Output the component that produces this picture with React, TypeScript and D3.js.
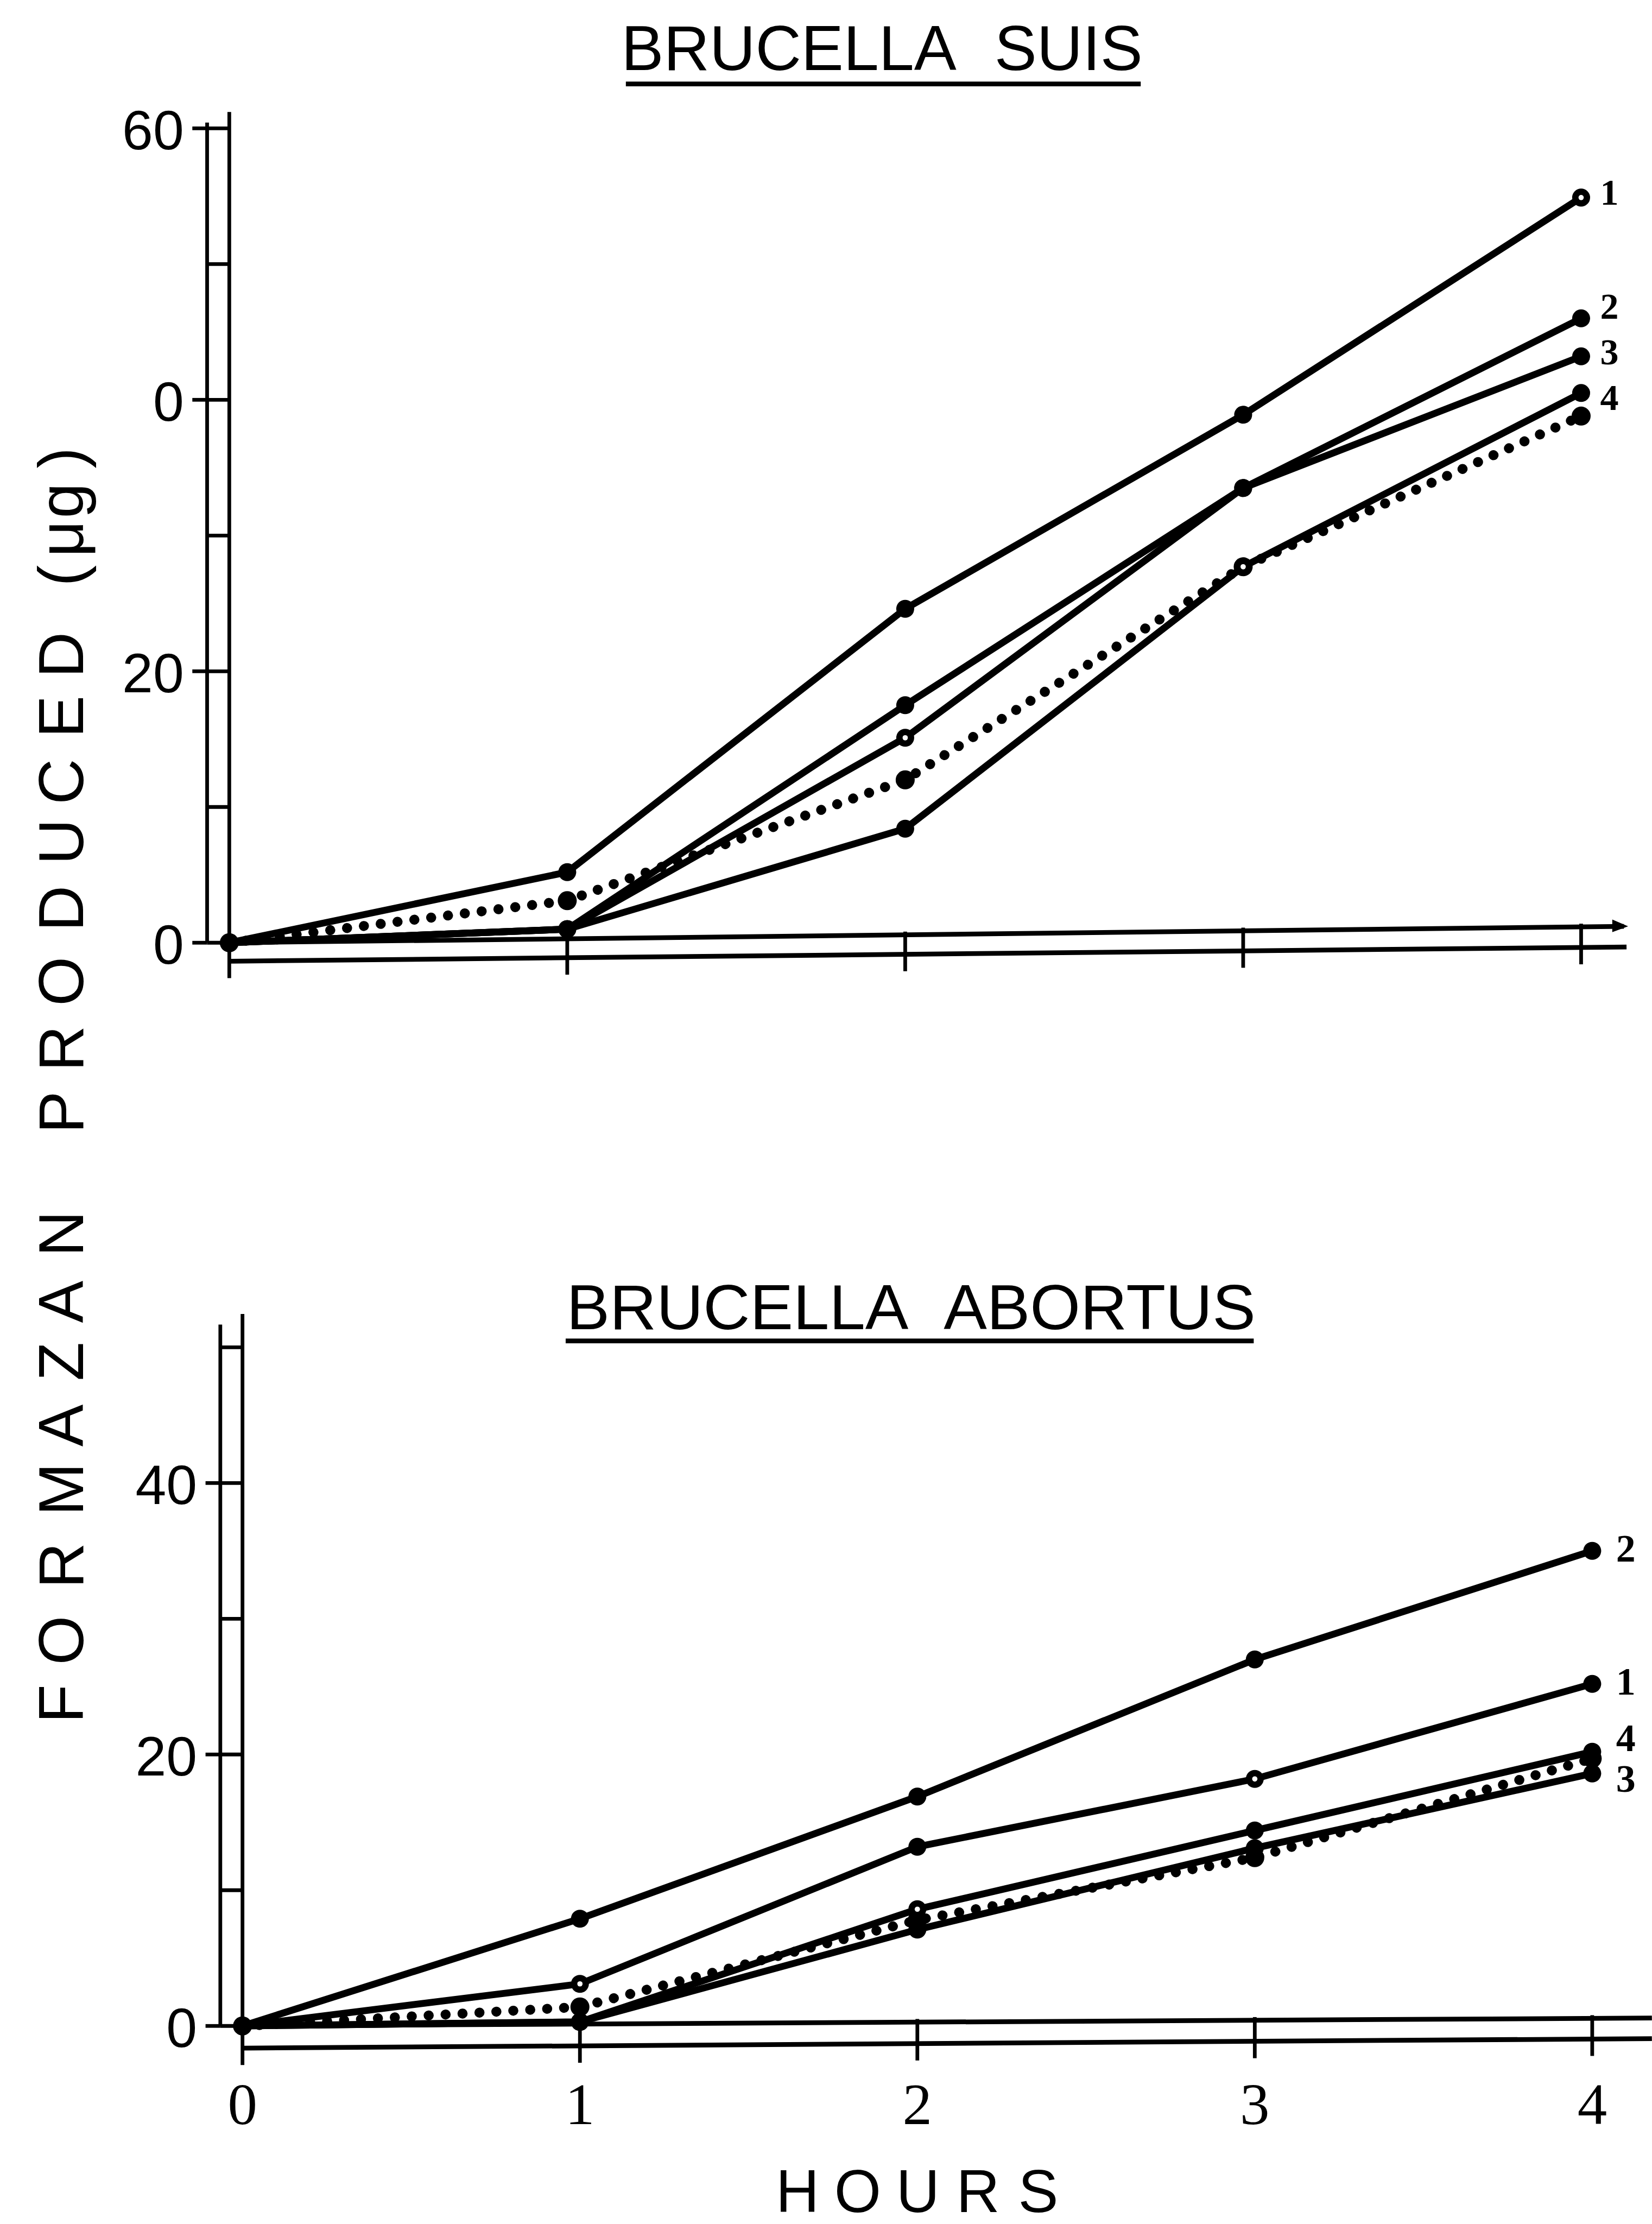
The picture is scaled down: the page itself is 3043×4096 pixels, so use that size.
import React from 'react';
import * as d3 from 'd3';

// ---------- data ----------
const hours = [0, 1, 2, 3, 4];
const hourTickLabels = ['0', '1', '2', '3', '4'];
const curveNames = ['1', '2', '3', '4'];

// Brucella suis (formazan, µg)
const suis1 = [0, 5.2, 24.6, 38.9, 54.9];
const suis2 = [0, 1.0, 17.5, 33.5, 46.0];
const suis3 = [0, 1.0, 15.1, 33.5, 43.2];
const suis4 = [0, 1.0, 8.4, 27.7, 40.5];
const suisDotted = [0, 3.1, 12.0, 27.7, 38.8];
const suisTickValues = [0, 20, 40, 60];
const suisTickLabels = ['0', '20', '0', '60'];
const suisMinorTicks = [10, 30, 50];

// Brucella abortus
const abortus1 = [0, 3.1, 13.2, 18.2, 25.2];
const abortus2 = [0, 7.9, 16.9, 27.0, 35.0];
const abortus3 = [0, 0.3, 7.1, 13.1, 18.6];
const abortus4 = [0, 0.3, 8.6, 14.4, 20.2];
const abortusDotted = [0, 1.4, 7.8, 12.4, 19.7];
const abortusTickValues = [0, 20, 40];
const abortusTickLabels = ['0', '20', '40'];
const abortusMinorTicks = [10, 30, 50];

// open (hollow-centred) markers: [curve index, point index]
const suisOpen = [[0, 4], [2, 2], [3, 3]];
const abortusOpen = [[0, 1], [0, 3], [3, 2]];

// ---------- layout (reference pixel space) ----------
const W = 3128;
const H = 4211;
const FONT = '"Liberation Sans", Arial, Helvetica, sans-serif';
const SERIF = '"Liberation Serif", "Times New Roman", serif';

type PanelProps = {
  title: string;
  titleX: number;
  titleBase: number;
  titleLen: number;
  ulX1: number;
  ulX2: number;
  ulY: number;
  xs: d3.ScaleLinear<number, number>;
  ys: d3.ScaleLinear<number, number>;
  curves: number[][];
  dotted: number[];
  open: number[][];
  tickValues: number[];
  tickLabels: string[];
  minorTicks: number[];
  labelDy: number[];
  labelDx: number;
  labelSize: number;
  axisTop: number;
  upperEnd: [number, number];
  lowerStart: number;
  lowerEnd: [number, number];
  arrow: boolean;
  showHourLabels: boolean;
};

function Panel(p: PanelProps) {
  const { xs, ys } = p;
  const x0 = xs(0);
  const y0 = ys(0);
  const leftX = x0 - 42;
  const line = d3
    .line<number>()
    .x((_, i) => xs(hours[i]))
    .y((d) => ys(d));
  const upperY = (x: number) => y0 + ((p.upperEnd[1] - y0) * (x - x0)) / (p.upperEnd[0] - x0);
  const lowerY = (x: number) =>
    p.lowerStart + ((p.lowerEnd[1] - p.lowerStart) * (x - x0)) / (p.lowerEnd[0] - x0);
  const allMinor = [...p.tickValues, ...p.minorTicks];
  return (
    <g>
      {/* title */}
      <text
        x={p.titleX}
        y={p.titleBase}
        fontFamily={FONT}
        fontSize={120}
        wordSpacing={45}
        textAnchor="middle"
        textLength={p.titleLen}
        lengthAdjust="spacingAndGlyphs"
        fill="#000"
      >
        {p.title}
      </text>
      <line x1={p.ulX1} x2={p.ulX2} y1={p.ulY} y2={p.ulY} stroke="#000" strokeWidth={9} />

      {/* y axis: double line */}
      <line x1={x0} x2={x0} y1={p.axisTop - 12} y2={y0} stroke="#000" strokeWidth={7} />
      <line x1={leftX} x2={leftX} y1={p.axisTop + 8} y2={y0} stroke="#000" strokeWidth={7} />
      {allMinor.map((v) => (
        <line key={'m' + v} x1={leftX} x2={x0} y1={ys(v)} y2={ys(v)} stroke="#000" strokeWidth={7} />
      ))}
      {p.tickValues.map((v, i) => (
        <g key={'t' + v}>
          <line x1={leftX - 28} x2={leftX} y1={ys(v)} y2={ys(v)} stroke="#000" strokeWidth={7} />
          <text
            x={x0 - 86}
            y={ys(v) + 4}
            fontFamily={FONT}
            fontSize={105}
            textAnchor="end"
            dominantBaseline="central"
            fill="#000"
          >
            {p.tickLabels[i]}
          </text>
        </g>
      ))}

      {/* x axis: double line */}
      <line x1={x0} y1={y0} x2={p.upperEnd[0]} y2={p.upperEnd[1]} stroke="#000" strokeWidth={9} />
      <line
        x1={x0}
        y1={p.lowerStart}
        x2={p.lowerEnd[0]}
        y2={p.lowerEnd[1]}
        stroke="#000"
        strokeWidth={9}
      />
      {p.arrow && (
        <path
          d={`M ${p.upperEnd[0] - 22} ${p.upperEnd[1] - 13} L ${p.upperEnd[0] + 8} ${p.upperEnd[1]} L ${
            p.upperEnd[0] - 22
          } ${p.upperEnd[1] + 11} Z`}
          fill="#000"
        />
      )}
      {hours.map((h) => {
        const x = xs(h);
        return (
          <line
            key={'xt' + h}
            x1={x}
            x2={x}
            y1={upperY(x) - 6}
            y2={lowerY(x) + 32}
            stroke="#000"
            strokeWidth={7}
          />
        );
      })}
      {p.showHourLabels &&
        hours.map((h, i) => (
          <text
            key={'xl' + h}
            x={xs(h)}
            y={4022}
            fontFamily={SERIF}
            fontSize={112}
            textAnchor="middle"
            fill="#000"
          >
            {hourTickLabels[i]}
          </text>
        ))}

      {/* dotted series */}
      <path
        d={line(p.dotted) || ''}
        fill="none"
        stroke="#000"
        strokeWidth={19}
        strokeDasharray="0.1 32"
        strokeLinecap="round"
      />
      {p.dotted.map((d, i) => (
        <circle key={'dd' + i} cx={xs(hours[i])} cy={ys(d)} r={18} fill="#000" />
      ))}

      {/* solid series */}
      {p.curves.map((c, ci) => (
        <g key={'c' + ci}>
          <path
            d={line(c) || ''}
            fill="none"
            stroke="#000"
            strokeWidth={13}
            strokeLinejoin="round"
            strokeLinecap="round"
          />
          {c.map((d, i) => (
            <circle key={'p' + i} cx={xs(hours[i])} cy={ys(d)} r={17} fill="#000" />
          ))}
          <text
            x={xs(4) + p.labelDx}
            y={ys(c[c.length - 1]) + p.labelDy[ci]}
            fontFamily={SERIF}
            fontWeight="bold"
            fontSize={p.labelSize}
            dominantBaseline="central"
            fill="#000"
          >
            {curveNames[ci]}
          </text>
        </g>
      ))}
      {p.open.map(([ci, pi]) => (
        <circle
          key={'o' + ci + '-' + pi}
          cx={xs(hours[pi])}
          cy={ys(p.curves[ci][pi])}
          r={5}
          fill="#fff"
        />
      ))}
    </g>
  );
}

// y-axis title letter centres (along the vertical axis)
const yTitle = 'FORMAZAN PRODUCED (\u03bcg)';
const yTitlePos = [
  3226, 3106, 2964, 2820, 2699, 2578, 2465, 2336, 2220, 2106, 1985, 1858, 1720, 1594, 1480, 1357,
  1240, 1165, 1090, 1020, 948, 867,
];
const xTitle = 'HOURS';

export default function App() {
  const xTop = d3.scaleLinear().domain([0, 4]).range([434, 2994]);
  const yTop = d3.scaleLinear().domain([0, 60]).range([1785, 243]);
  const xBot = d3.scaleLinear().domain([0, 4]).range([459, 3015]);
  const yBot = d3.scaleLinear().domain([0, 40]).range([3836, 2808]);

  return (
    <svg
      width={3043}
      height={4096}
      viewBox={`0 0 ${W} ${H}`}
      style={{ position: 'absolute', left: 0, top: 0, display: 'block', background: '#fff' }}
    >
      <rect x={0} y={0} width={W} height={H} fill="#fff" />
      <Panel
        title="BRUCELLA SUIS"
        titleX={1670}
        titleBase={133}
        titleLen={987}
        ulX1={1185}
        ulX2={2160}
        ulY={159}
        xs={xTop}
        ys={yTop}
        curves={[suis1, suis2, suis3, suis4]}
        dotted={suisDotted}
        open={suisOpen}
        tickValues={suisTickValues}
        tickLabels={suisTickLabels}
        minorTicks={suisMinorTicks}
        labelDy={[-10, -23, -9, 8]}
        labelDx={36}
        labelSize={70}
        axisTop={224}
        upperEnd={[3075, 1754]}
        lowerStart={1820}
        lowerEnd={[3080, 1793]}
        arrow={true}
        showHourLabels={false}
      />
      <Panel
        title="BRUCELLA ABORTUS"
        titleX={1725}
        titleBase={2517}
        titleLen={1305}
        ulX1={1071}
        ulX2={2374}
        ulY={2539}
        xs={xBot}
        ys={yBot}
        curves={[abortus1, abortus2, abortus3, abortus4]}
        dotted={abortusDotted}
        open={abortusOpen}
        tickValues={abortusTickValues}
        tickLabels={abortusTickLabels}
        minorTicks={abortusMinorTicks}
        labelDy={[-4, -4, 10, -26]}
        labelDx={45}
        labelSize={74}
        axisTop={2500}
        upperEnd={[3128, 3821]}
        lowerStart={3878}
        lowerEnd={[3128, 3860]}
        arrow={false}
        showHourLabels={true}
      />

      {/* shared y-axis title */}
      <text
        transform="rotate(-90)"
        x={yTitlePos.map((v) => -v).join(' ')}
        y={157}
        fontFamily={FONT}
        fontSize={120}
        textAnchor="middle"
        fill="#000"
      >
        {yTitle}
      </text>

      {/* x-axis title */}
      <text
        x={[0, 1, 2, 3, 4].map((i) => 1510 + i * 114).join(' ')}
        y={4188}
        fontFamily={FONT}
        fontSize={114}
        textAnchor="middle"
        fill="#000"
      >
        {xTitle}
      </text>
    </svg>
  );
}
